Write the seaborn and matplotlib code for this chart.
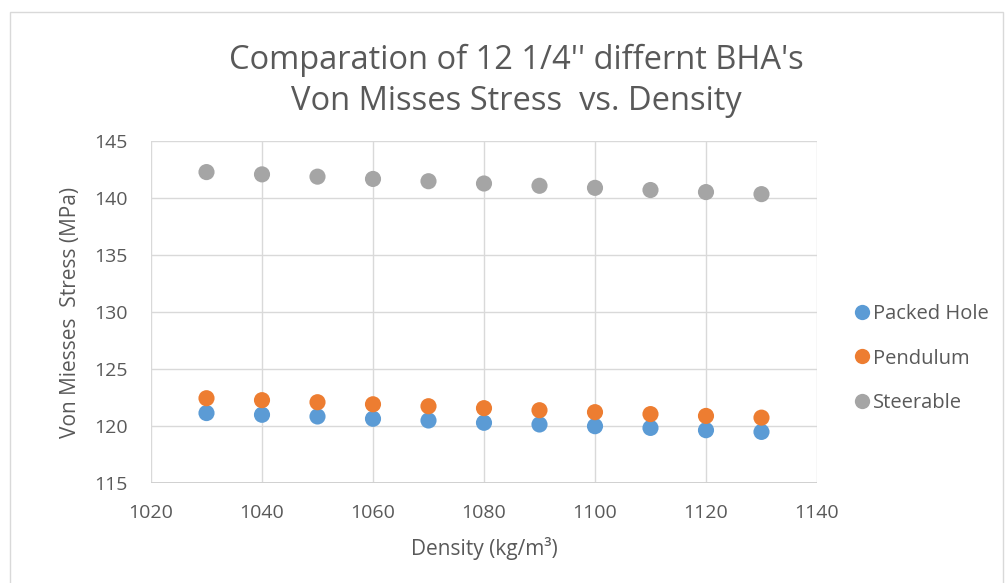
import matplotlib
matplotlib.use("Agg")
import matplotlib.pyplot as plt
from matplotlib.patches import Rectangle
import seaborn as sns
import pandas as pd

density = [1030, 1040, 1050, 1060, 1070, 1080, 1090, 1100, 1110, 1120, 1130]
packed_hole = [121.15, 121.0, 120.85, 120.65, 120.5, 120.3, 120.15, 120.0, 119.85, 119.65, 119.5]
pendulum = [122.45, 122.28, 122.1, 121.92, 121.75, 121.58, 121.4, 121.23, 121.06, 120.9, 120.75]
steerable = [142.25, 142.05, 141.85, 141.65, 141.45, 141.25, 141.05, 140.87, 140.68, 140.5, 140.32]

series_names = ["Packed Hole", "Pendulum", "Steerable"]
colors = ["#5b9bd5", "#ed7d31", "#a5a5a5"]

df = pd.concat([
    pd.DataFrame({"Density": density, "Stress": vals, "Series": name})
    for name, vals in zip(series_names, [packed_hole, pendulum, steerable])
])

sns.set_theme(style="white")
plt.rcParams["font.family"] = ["Open Sans", "DejaVu Sans"]
text_color = "#595959"

fig = plt.figure(figsize=(10.08, 5.83), dpi=100)
ax = fig.add_axes([0.1498, 0.171, 0.6607, 0.5877])

sns.scatterplot(data=df, x="Density", y="Stress", hue="Series",
                palette=colors, hue_order=series_names, s=135,
                edgecolor="none", ax=ax, legend=False, zorder=3)

ax.set_xlim(1020, 1140)
ax.set_ylim(115, 145)
ax.set_xticks(range(1020, 1141, 20))
ax.set_yticks(range(115, 146, 5))
ax.grid(True, color="#d9d9d9", linewidth=1.0)
ax.set_axisbelow(True)
for side in ["left", "right", "top", "bottom"]:
    ax.spines[side].set_visible(False)
ax.axhline(115, color="#d0d0d0", linewidth=1.4, zorder=1)
ax.tick_params(axis="x", length=0, labelsize=14, labelcolor=text_color, pad=15)
ax.tick_params(axis="y", length=0, labelsize=14, labelcolor=text_color, pad=17)

ax.set_xlabel("Density (kg/m³)", fontsize=15, color=text_color, labelpad=11)
ax.set_ylabel("Von Miesses  Stress (MPa)", fontsize=15, color=text_color, labelpad=9)

fig.text(0.512, 0.861, "Comparation of 12 1/4'' differnt BHA's\nVon Misses Stress  vs. Density",
         ha="center", va="center", fontsize=23.5, color=text_color, linespacing=1.3)

handles = [plt.Line2D([], [], marker="o", linestyle="", markersize=11,
                      markerfacecolor=c, markeredgecolor="none") for c in colors]
fig.legend(handles, series_names, loc="center left", bbox_to_anchor=(0.845, 0.385),
           frameon=False, fontsize=14.5, labelcolor=text_color, handletextpad=0.05,
           handlelength=1.0, labelspacing=1.2, borderaxespad=0, borderpad=0)

fig.patches.append(Rectangle((10 / 1008, -0.01), 0.985, 1 - 12 / 583 + 0.01,
                             transform=fig.transFigure, fill=False,
                             edgecolor="#d9d9d9", linewidth=1.0))

fig.savefig("out.png", dpi=100, facecolor="white")
